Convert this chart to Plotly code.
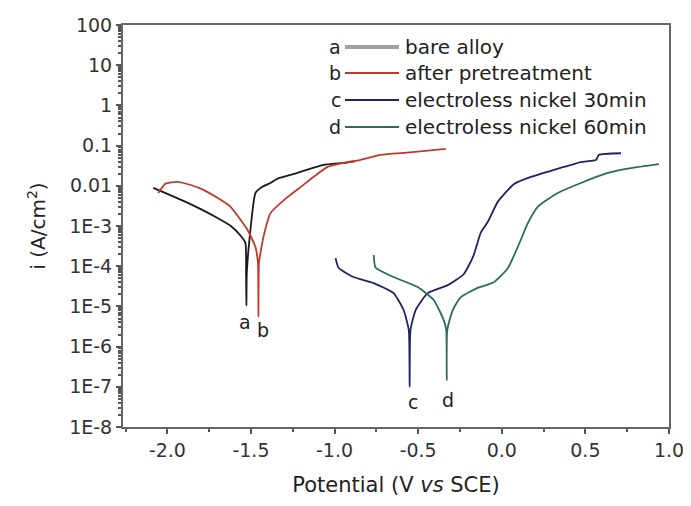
import plotly.graph_objects as go

# Potential (V vs SCE) and log10 current density for each curve
a_V = [-2.084, -2.0, -1.90, -1.80, -1.70, -1.62, -1.56, -1.533, -1.529, -1.527, -1.525, -1.515, -1.503, -1.49, -1.473, -1.43, -1.383, -1.34, -1.263, -1.20, -1.066, -0.946, -0.88]
a_log = [-2.05, -2.20, -2.38, -2.58, -2.80, -3.00, -3.25, -3.42, -4.2, -4.98, -4.2, -3.6, -3.10, -2.60, -2.18, -2.02, -1.93, -1.82, -1.73, -1.65, -1.48, -1.43, -1.39]

b_V = [-2.054, -2.012, -1.94, -1.86, -1.784, -1.70, -1.623, -1.52, -1.473, -1.458, -1.455, -1.452, -1.44, -1.425, -1.383, -1.281, -1.20, -1.126, -1.042, -0.946, -0.85, -0.725, -0.55, -0.335]
b_log = [-2.18, -1.95, -1.90, -1.98, -2.10, -2.30, -2.52, -3.10, -3.52, -3.92, -5.26, -3.92, -3.60, -3.27, -2.68, -2.28, -2.02, -1.78, -1.53, -1.43, -1.36, -1.23, -1.17, -1.08]

c_V = [-0.994, -0.976, -0.886, -0.766, -0.647, -0.587, -0.556, -0.551, -0.546, -0.515, -0.443, -0.323, -0.228, -0.17, -0.126, -0.084, -0.024, 0.072, 0.174, 0.275, 0.473, 0.563, 0.581, 0.713]
c_log = [-3.80, -4.04, -4.27, -4.42, -4.67, -5.09, -5.59, -7.0, -5.59, -5.09, -4.67, -4.47, -4.20, -3.75, -3.17, -2.90, -2.40, -1.96, -1.78, -1.65, -1.41, -1.36, -1.23, -1.19]

d_V = [-0.766, -0.754, -0.647, -0.503, -0.407, -0.347, -0.332, -0.329, -0.326, -0.293, -0.245, -0.144, -0.048, 0.036, 0.096, 0.156, 0.216, 0.335, 0.473, 0.635, 0.772, 0.94]
d_log = [-3.72, -4.04, -4.27, -4.52, -4.84, -5.34, -5.59, -6.83, -5.59, -5.09, -4.77, -4.54, -4.40, -4.05, -3.52, -2.93, -2.52, -2.18, -1.93, -1.68, -1.56, -1.46]

labels = ["a", "b", "c", "d"]
names = ["bare alloy", "after pretreatment", "electroless nickel 30min", "electroless nickel 60min"]
colors = ["#1a1a1a", "#c0392b", "#1f2360", "#2e6b5e"]
legend_colors = ["#a0a0a0", "#c0392b", "#1f2360", "#2e6b5e"]
label_V = [-1.533, -1.425, -0.533, -0.323]
label_log = [-5.39, -5.59, -7.38, -7.33]

y_tickvals = [1e-8, 1e-7, 1e-6, 1e-5, 1e-4, 1e-3, 1e-2, 1e-1, 1, 10, 100]
y_ticktext = ["1E-8", "1E-7", "1E-6", "1E-5", "1E-4", "1E-3", "0.01", "0.1", "1", "10", "100"]
x_tickvals = [-2.0, -1.5, -1.0, -0.5, 0.0, 0.5, 1.0]
x_ticktext = ["-2.0", "-1.5", "-1.0", "-0.5", "0.0", "0.5", "1.0"]

FONT = "DejaVu Sans, sans-serif"
OFF = 8  # page body margin
W, H = 691 - OFF, 506 - OFF
L, R, T, B = 123 - OFF, 669 - OFF, 25 - OFF, 427 - OFF

fig = go.Figure()
for V, lg, col, nm in zip([a_V, b_V, c_V, d_V], [a_log, b_log, c_log, d_log], colors, names):
    fig.add_trace(go.Scatter(x=V, y=[10 ** v for v in lg], mode="lines", name=nm,
                             line=dict(color=col, width=1.8, shape="spline", smoothing=0.5),
                             showlegend=False))

# curve labels
for t, xv, lv in zip(labels, label_V, label_log):
    fig.add_annotation(x=xv, y=lv, xref="x", yref="y", text=t, showarrow=False,
                       font=dict(family=FONT, size=19, color="#222"))

def px(xp):
    return (xp - OFF - L) / (R - L)
def py(yp):
    return (B - (yp - OFF)) / (B - T)

rows = [47, 73, 100, 127]
for i, (t, nm, col) in enumerate(zip(labels, names, legend_colors)):
    yy = py(rows[i])
    fig.add_annotation(x=px(343), y=yy, xref="paper", yref="paper", text=t, showarrow=False,
                       xanchor="right", yanchor="middle", font=dict(family=FONT, size=19, color="#222"))
    fig.add_shape(type="line", xref="paper", yref="paper", x0=px(345), x1=px(399), y0=yy, y1=yy,
                  line=dict(color=col, width=4 if i == 0 else 2))
    fig.add_annotation(x=px(403), y=yy, xref="paper", yref="paper", text=nm, showarrow=False,
                       xanchor="left", yanchor="middle", font=dict(family=FONT, size=20, color="#222"))

minor_y = [m * 10 ** e for e in range(-8, 2) for m in range(2, 10)]
fig.update_layout(
    width=W, height=H, margin=dict(l=L, r=W - R, t=T, b=H - B, autoexpand=False),
    paper_bgcolor="white", plot_bgcolor="white",
    font=dict(family=FONT, size=19, color="#333"),
    xaxis=dict(range=[-2.265, 1.0], tickvals=x_tickvals, ticktext=x_ticktext,
               ticks="outside", ticklen=5, tickwidth=1.5, tickcolor="#555",
               minor=dict(tickvals=[-2.25, -1.75, -1.25, -0.75, -0.25, 0.25, 0.75], ticks="outside", ticklen=3, tickcolor="#555"),
               showline=True, linecolor="#666", linewidth=2, mirror=True, showgrid=False, zeroline=False,
               title=dict(text="Potential (V <i>vs</i> SCE)", font=dict(size=21, color="#222"), standoff=18),
               tickfont=dict(size=19)),
    yaxis=dict(type="log", range=[-8, 2], tickvals=y_tickvals, ticktext=y_ticktext,
               ticks="outside", ticklen=5, tickwidth=1.5, tickcolor="#555",
               minor=dict(tickvals=minor_y, ticks="outside", ticklen=3, tickcolor="#555"),
               showline=True, linecolor="#666", linewidth=2, mirror=True, showgrid=False, zeroline=False,
               title=dict(text="i (A/cm<sup>2</sup>)", font=dict(size=20, color="#222"), standoff=18),
               tickfont=dict(size=19)),
)
fig.write_html("out.html")
